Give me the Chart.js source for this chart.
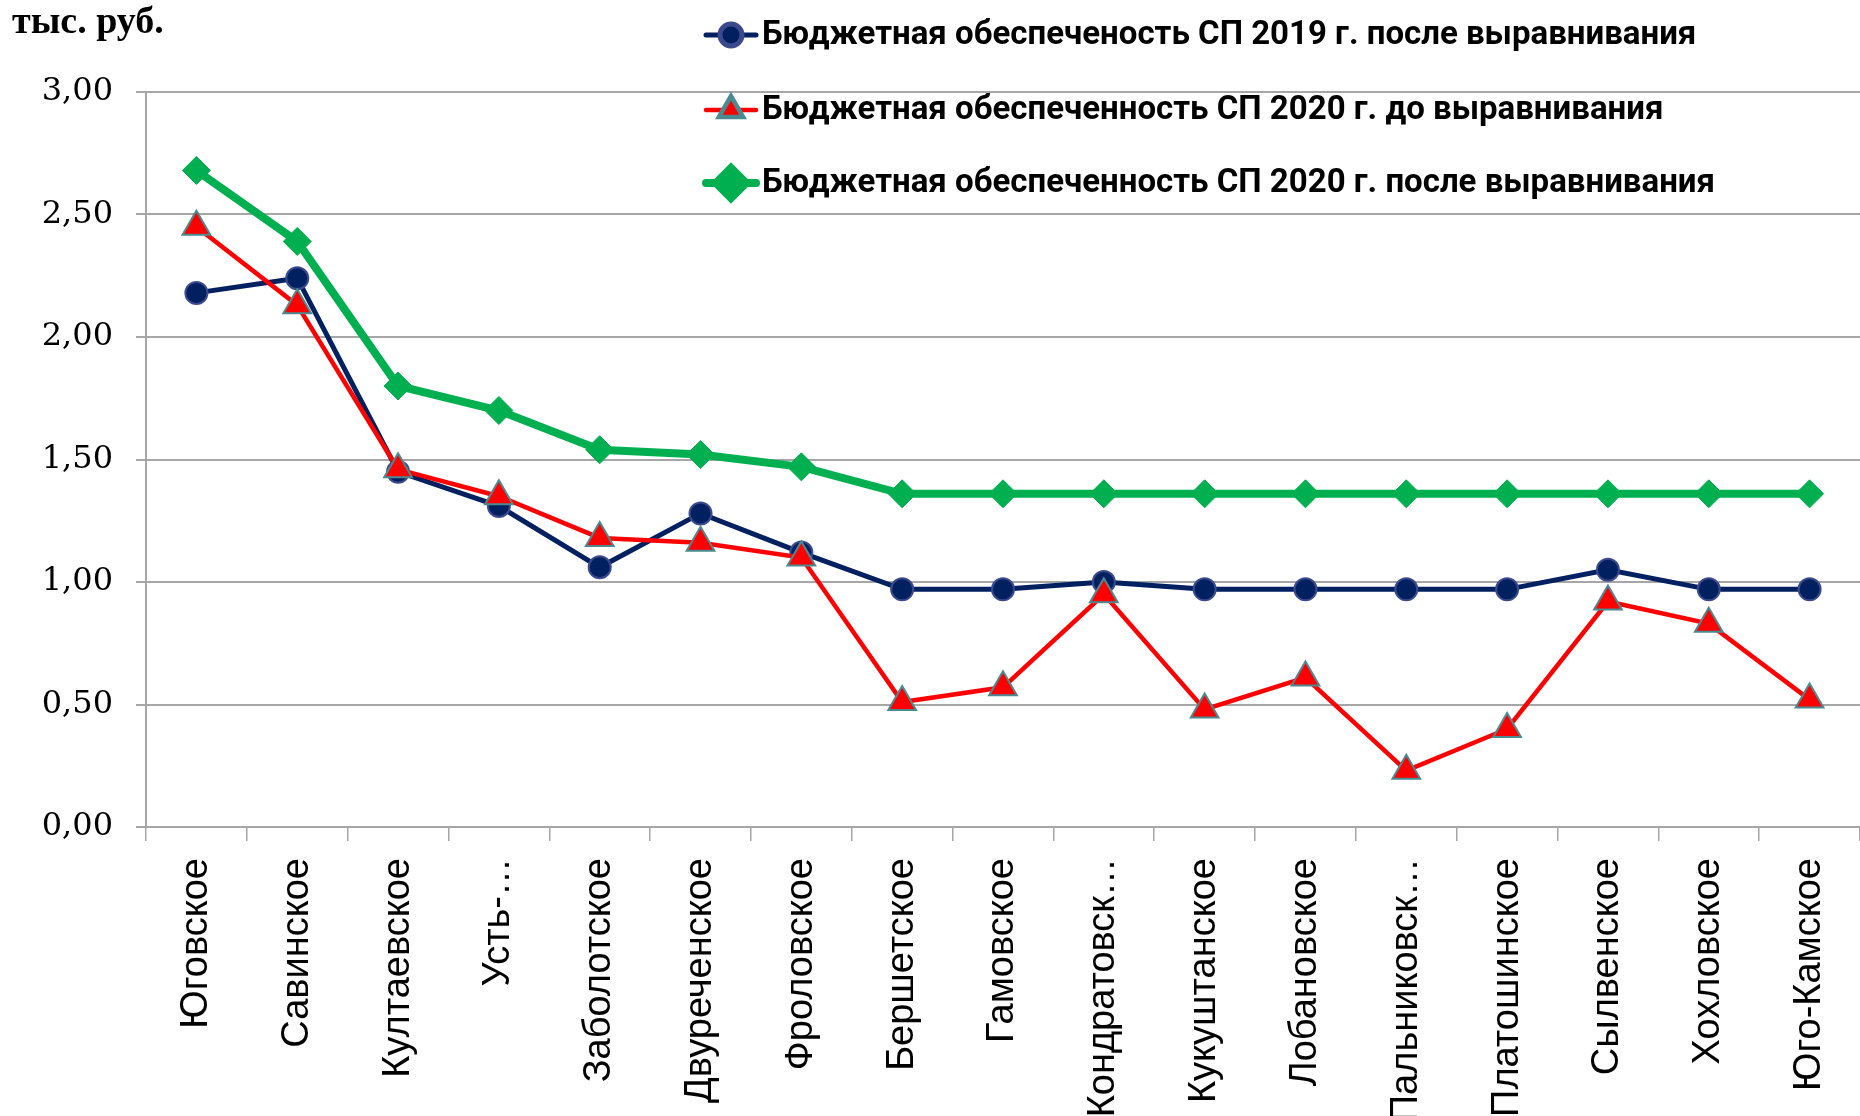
<!DOCTYPE html>
<html lang="ru">
<head>
<meta charset="utf-8">
<title>Бюджетная обеспеченность СП</title>
<script src="https://cdn.jsdelivr.net/npm/chart.js@4.4.1/dist/chart.umd.min.js"></script>
<style>
  html, body { margin: 0; padding: 0; background: #fff; }
  canvas { display: block; }
</style>
</head>
<body>
<canvas id="budget" width="1860" height="1116"></canvas>
<script>
  // ===== data =====
  const categories = [
    "Юговское", "Савинское", "Култаевское", "Усть-…", "Заболотское",
    "Двуреченское", "Фроловское", "Бершетское", "Гамовское", "Кондратовск…",
    "Кукуштанское", "Лобановское", "Пальниковск…", "Платошинское",
    "Сылвенское", "Хохловское", "Юго-Камское",
  ];
  const after2019 = [2.18, 2.24, 1.45, 1.31, 1.06, 1.28, 1.12, 0.97, 0.97, 1.0, 0.97, 0.97, 0.97, 0.97, 1.05, 0.97, 0.97];
  const before2020 = [2.45, 2.13, 1.46, 1.35, 1.18, 1.16, 1.1, 0.51, 0.57, 0.95, 0.48, 0.61, 0.23, 0.4, 0.92, 0.83, 0.52];
  const after2020 = [2.68, 2.39, 1.8, 1.7, 1.54, 1.52, 1.47, 1.36, 1.36, 1.36, 1.36, 1.36, 1.36, 1.36, 1.36, 1.36, 1.36];
  const seriesNames = [
    "Бюджетная обеспеченость СП 2019 г. после выравнивания",
    "Бюджетная обеспеченность СП 2020 г. до выравнивания",
    "Бюджетная обеспеченность СП 2020 г. после выравнивания",
  ];
  const unitLabel = "тыс. руб.";
  const yMin = 0;
  const yMax = 3;
  const yStep = 0.5;

  const GRID = "#a6a6a6";

  // legend + unit caption, drawn like the Excel original
  const excelLegend = {
    id: "excelLegend",
    afterDraw(chart) {
      const ctx = chart.ctx;
      ctx.save();
      ctx.fillStyle = "#000";
      ctx.font = "bold 38px 'Liberation Serif'";
      ctx.textBaseline = "alphabetic";
      ctx.textAlign = "left";
      ctx.fillText(unitLabel, 12, 33);

      const rowY = [35, 110, 183];
      chart.data.datasets.forEach((ds, i) => {
        const y = rowY[i];
        ctx.strokeStyle = ds.borderColor;
        ctx.lineWidth = ds.borderWidth;
        ctx.lineCap = "round";
        ctx.beginPath();
        ctx.moveTo(706, y);
        ctx.lineTo(756, y);
        ctx.stroke();
        ctx.fillStyle = ds.pointBackgroundColor;
        ctx.strokeStyle = ds.pointBorderColor;
        Chart.helpers.drawPoint(ctx, {
          pointStyle: ds.pointStyle,
          rotation: 0,
          radius: ds.legendRadius,
          borderWidth: ds.pointBorderWidth,
        }, 731, y);
        ctx.fillStyle = "#000";
        ctx.font = "bold 33px Roboto";
        ctx.textBaseline = "middle";
        ctx.fillText(ds.label, 762, y + 1);
      });
      ctx.restore();
    },
  };

  const budget = document.getElementById("budget");
  new Chart(budget, {
    type: "line",
    plugins: [excelLegend],
    data: {
      labels: categories,
      datasets: [
        {
          label: seriesNames[0],
          data: after2019,
          borderColor: "#002060",
          borderWidth: 5,
          pointStyle: "circle",
          pointRadius: 11,
          legendRadius: 11,
          pointBackgroundColor: "#002060",
          pointBorderColor: "#3b4a8c",
          pointBorderWidth: 2,
          tension: 0,
          order: 3,
        },
        {
          label: seriesNames[1],
          data: before2020,
          borderColor: "#ff0000",
          borderWidth: 4.5,
          pointStyle: "triangle",
          pointRadius: 16,
          legendRadius: 14,
          pointBackgroundColor: "#ff0000",
          pointBorderColor: "#4a8a90",
          pointBorderWidth: 2,
          tension: 0,
          order: 2,
        },
        {
          label: seriesNames[2],
          data: after2020,
          borderColor: "#00b050",
          borderWidth: 8,
          pointStyle: "rectRot",
          pointRadius: 14,
          legendRadius: 15,
          pointBackgroundColor: "#00b050",
          pointBorderColor: "#00b050",
          pointBorderWidth: 1,
          tension: 0,
          order: 1,
        },
      ],
    },
    options: {
      responsive: false,
      animation: false,
      devicePixelRatio: 1,
      layout: {
        autoPadding: false,
        padding: { top: 92, left: 0, right: 0, bottom: 0 },
      },
      scales: {
        x: {
          offset: true,
          grid: {
            display: true,
            offset: true,
            drawOnChartArea: false,
            drawTicks: true,
            tickLength: 14,
            color: GRID,
            lineWidth: 1.5,
          },
          border: { display: true, color: GRID, width: 2 },
          ticks: {
            autoSkip: false,
            minRotation: 90,
            maxRotation: 90,
            padding: 17,
            color: "#000",
            font: { family: "'Liberation Sans'", size: 38 },
          },
          afterFit(scale) {
            scale.height = 289;
            scale.paddingLeft = 0;
            scale.paddingRight = 0;
          },
        },
        y: {
          min: yMin,
          max: yMax,
          grid: {
            display: true,
            color: GRID,
            lineWidth: 2,
            tickLength: 10,
          },
          border: { display: true, color: GRID, width: 2 },
          ticks: {
            stepSize: yStep,
            padding: 23,
            color: "#000",
            font: { family: "'DejaVu Serif'", size: 32 },
            callback: function (value) {
              return value.toFixed(2).replace(".", ",");
            },
          },
          afterFit(scale) {
            scale.width = 146;
          },
        },
      },
      plugins: {
        legend: { display: false },
        tooltip: { enabled: false },
      },
    },
  });
</script>
</body>
</html>
